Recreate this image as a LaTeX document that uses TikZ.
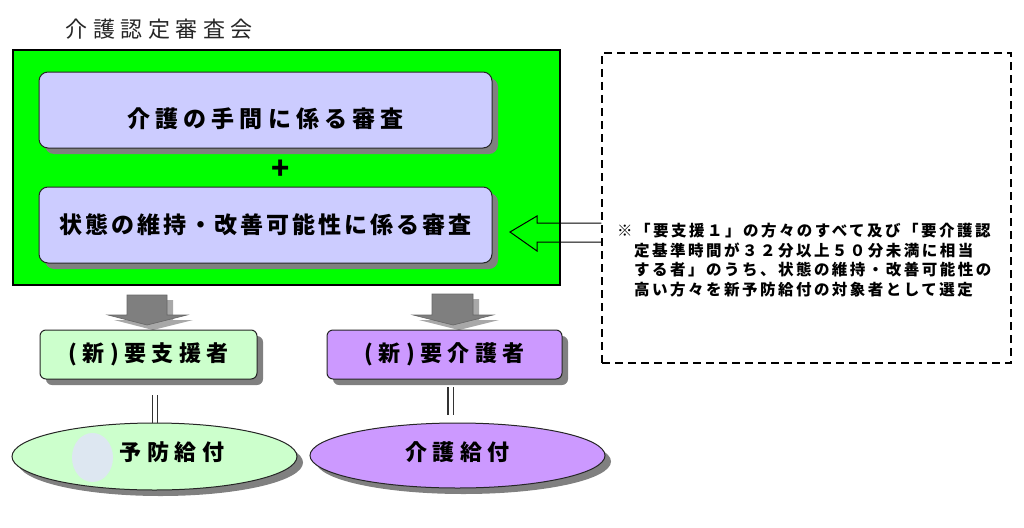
\documentclass[tikz,border=0pt]{standalone}
\usepackage{fontspec}
\setmainfont{Noto Sans CJK JP}
\usetikzlibrary{shapes.geometric,shadows}
\definecolor{councilgreen}{HTML}{00FF00}
\definecolor{lavender}{HTML}{CCCCFF}
\definecolor{palegreen}{HTML}{CCFFCC}
\definecolor{violet2}{HTML}{CC99FF}
\definecolor{shadowgray}{HTML}{808080}
\definecolor{arrowgray}{HTML}{7F7F7F}
\definecolor{arrowshadow}{HTML}{A8A8A8}
\definecolor{blob}{HTML}{DDE7F1}
\begin{document}
\begin{tikzpicture}[x=1pt,y=-1pt,
  boxshadow/.style={drop shadow={shadow xshift=6pt,shadow yshift=-6pt,fill=shadowgray,opacity=1}},
  evalbox/.style={draw=black!85,line width=1pt,fill=lavender,rounded corners=9pt,
    minimum width=453pt,minimum height=76pt,inner sep=0pt,boxshadow,
    font=\fontsize{23}{26}\selectfont\bfseries},
  resultbox/.style={draw=black!85,line width=1pt,rounded corners=6pt,
    minimum height=49pt,inner sep=0pt,boxshadow,
    font=\fontsize{22}{26}\selectfont\bfseries},
  benefit/.style={ellipse,draw=black!85,line width=1pt,inner sep=0pt,boxshadow,
    font=\fontsize{22}{26}\selectfont\bfseries},
  eqline/.style={draw=black!80,line width=1.4pt},
  blockarrow/.style={fill=arrowgray,draw=arrowgray!80!black,line width=0.6pt},
]
\useasboundingbox (0,0) rectangle (1024,527);

% title
\node (title) at (159,29) {\fontsize{22}{26}\selectfont\addfontfeatures{LetterSpace=25}\color{black!85}介護認定審査会};

% council frame
\node[draw=black,line width=2pt,fill=councilgreen,minimum width=547pt,minimum height=235pt,inner sep=0pt] (council) at (286.5,167.5) {};

% evaluation boxes
\node[evalbox,label={[yshift=-9pt,font=\fontsize{23}{26}\selectfont\bfseries]center:\addfontfeatures{LetterSpace=22}介護の手間に係る審査}] (effort) at (265.5,110) {};
\node[font=\fontsize{30}{32}\selectfont\bfseries] (plus) at (281,170) {+};
\node[evalbox] (maint) at (265.5,225) {\addfontfeatures{LetterSpace=13}状態の維持・改善可能性に係る審査};

% note box
\node[draw=black,line width=1.2pt,dash pattern=on 8pt off 5pt,minimum width=409pt,minimum height=310pt,inner sep=0pt] (note) at (806.5,208) {};
\node[anchor=north west,align=left,inner sep=0pt,
  font=\fontsize{15.5}{19.5}\selectfont\bfseries] (notetext) at (617,223)
  {\addfontfeatures{LetterSpace=16}※「要支援１」の方々のすべて及び「要介護認\\
   \hspace*{17pt}\addfontfeatures{LetterSpace=16}定基準時間が３２分以上５０分未満に相当\\
   \hspace*{17pt}\addfontfeatures{LetterSpace=16}する者」のうち、状態の維持・改善可能性の\\
   \hspace*{17pt}\addfontfeatures{LetterSpace=16}高い方々を新予防給付の対象者として選定};

% hollow arrow from note to maintenance review
\coordinate (hatip) at (510,232);
\draw[black,line width=1pt] (note.west |- 0,223) -- (537,223) -- (537,216) -- (hatip)
  -- (537,251) -- (537,242) -- (note.west |- 0,242);

% block arrows (with lighter shadows)
\fill[arrowshadow] (133,300) -- (173,300) -- (173,320) -- (193,320) -- (153,330) -- (114,320) -- (133,320) -- cycle;
\path[blockarrow] (127,295) -- (167,295) -- (167,315) -- (187,315) -- (147,325) -- (108,315) -- (127,315) -- cycle;
\fill[arrowshadow] (438,299) -- (479,299) -- (479,320) -- (499,320) -- (459,330) -- (419,320) -- (438,320) -- cycle;
\path[blockarrow] (432,294) -- (473,294) -- (473,315) -- (493,315) -- (453,325) -- (413,315) -- (432,315) -- cycle;

% result boxes
\node[resultbox,fill=palegreen,minimum width=217pt] (support) at (148.5,354.5) {\addfontfeatures{LetterSpace=25}(新)要支援者};
\node[resultbox,fill=violet2,minimum width=235pt] (care) at (444.5,354.5) {\addfontfeatures{LetterSpace=25}(新)要介護者};

% benefits
\node[benefit,fill=palegreen,minimum width=285pt,minimum height=67pt] (prev) at (154.5,456.5) {};
\fill[blob] (92.5,457.5) ellipse [x radius=20.5pt,y radius=24.5pt];
\node[font=\fontsize{22}{26}\selectfont\bfseries] (prevtext) at (172,452) {\addfontfeatures{LetterSpace=25}予防給付};
\node[benefit,fill=violet2,minimum width=295pt,minimum height=65pt,
  label={[yshift=3pt,font=\fontsize{22}{26}\selectfont\bfseries]center:\addfontfeatures{LetterSpace=25}介護給付}] (carebenefit) at (457.5,455.5) {};

% equality marks
\coordinate (la1) at (152.5,395); \coordinate (lb1) at (152.5,423);
\coordinate (la2) at (157.5,395); \coordinate (lb2) at (157.5,423);
\coordinate (ra1) at (448,387); \coordinate (rb1) at (448,415);
\coordinate (ra2) at (453.5,387); \coordinate (rb2) at (453.5,415);
\draw[eqline] (la1) -- (lb1); \draw[eqline] (la2) -- (lb2);
\draw[eqline] (ra1) -- (rb1); \draw[eqline] (ra2) -- (rb2);
\end{tikzpicture}
\end{document}
